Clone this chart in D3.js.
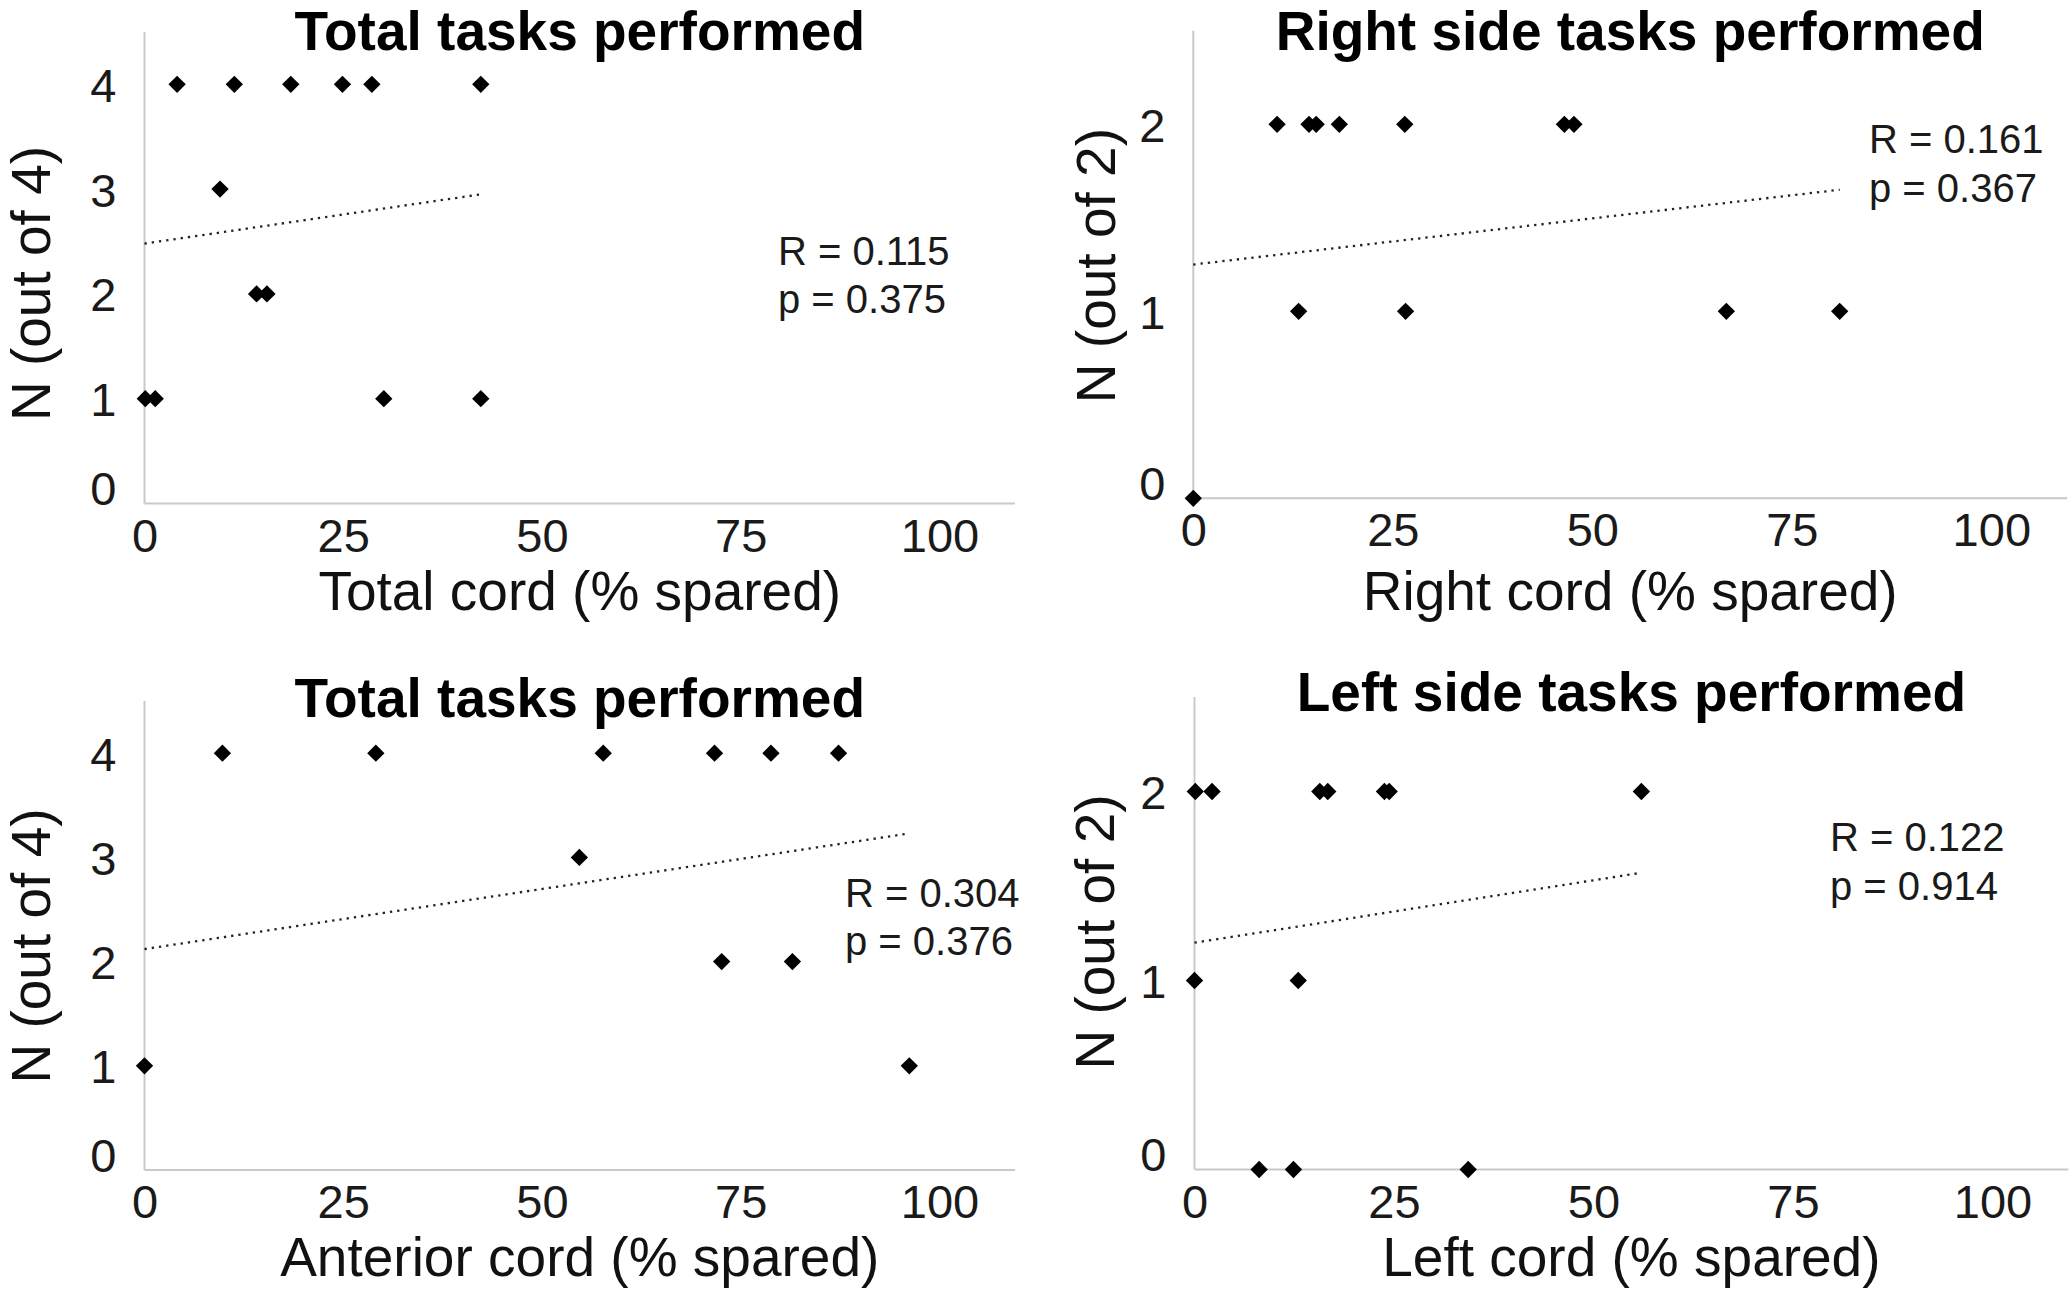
<!DOCTYPE html>
<html>
<head>
<meta charset="utf-8">
<script src="https://cdn.jsdelivr.net/npm/d3@7/dist/d3.min.js"></script>
<style>
  html, body { margin: 0; padding: 0; background: #fff; }
  svg { display: block; }
  text { font-family: "Liberation Sans", Arial, Helvetica, sans-serif; }
</style>
</head>
<body>
<svg id="chart" width="2072" height="1295"></svg>
<script>
// ---------------- DATA ----------------
const xTicks = [0, 25, 50, 75, 100];
const yTicksOf4 = [0, 1, 2, 3, 4];
const yTicksOf2 = [0, 1, 2];

const panelTitles = ["Total tasks performed", "Right side tasks performed", "Total tasks performed", "Left side tasks performed"];
const xTitles = ["Total cord (% spared)", "Right cord (% spared)", "Anterior cord (% spared)", "Left cord (% spared)"];
const yTitles = ["N (out of 4)", "N (out of 2)", "N (out of 4)", "N (out of 2)"];
const yMaxes = [4.5, 2.5, 4.5, 2.5];

// Panel A: total cord vs total tasks
const totalCordX = [4.1, 11.3, 18.4, 24.9, 28.6, 42.3, 9.5, 14.1, 15.4, 0.1, 1.35, 30.1, 42.3];
const totalTasksY = [4, 4, 4, 4, 4, 4, 3, 2, 2, 1, 1, 1, 1];
// Panel B: right cord vs right side tasks
const rightCordX = [10.5, 14.5, 15.4, 18.3, 26.5, 46.5, 47.7, 13.2, 26.6, 66.8, 81.0, 0];
const rightTasksY = [2, 2, 2, 2, 2, 2, 2, 1, 1, 1, 1, 0];
// Panel C: anterior cord vs total tasks
const anteriorCordX = [9.8, 29.1, 57.7, 71.7, 78.8, 87.3, 54.7, 72.6, 81.5, 0, 96.2];
const anteriorTasksY = [4, 4, 4, 4, 4, 4, 3, 2, 2, 1, 1];
// Panel D: left cord vs left side tasks
const leftCordX = [0.1, 2.2, 15.7, 16.7, 23.8, 24.4, 56.0, 0, 13.0, 8.1, 12.4, 34.3];
const leftTasksY = [2, 2, 2, 2, 2, 2, 2, 1, 1, 0, 0, 0];

// Linear trend lines (start and end points)
const trendStarts = [[0, 2.48], [0, 1.25], [0, 2.12], [0, 1.20]];
const trendEnds = [[42.3, 2.95], [81.0, 1.65], [96.2, 3.23], [56.0, 1.57]];

const statR = ["R = 0.115", "R = 0.161", "R = 0.304", "R = 0.122"];
const statP = ["p = 0.375", "p = 0.367", "p = 0.376", "p = 0.914"];

// ---------------- LAYOUT ----------------
const layouts = [
  { x0: 144.5, unit: 7.95, y0: 503.5, yUnit: 104.8, titleY: 50, xTitleY: 610, yTitleX: 50, yTitleY: 283.5, statX: 778, statY: [265, 313] },
  { x0: 1193.3, unit: 7.98, y0: 498.3, yUnit: 187, titleY: 50, xTitleY: 610, yTitleX: 1115, yTitleY: 265.6, statX: 1869, statY: [153, 202] },
  { x0: 144.5, unit: 7.95, y0: 1170, yUnit: 104.2, titleY: 717, xTitleY: 1276, yTitleX: 50, yTitleY: 946, statX: 845, statY: [907, 955] },
  { x0: 1194.5, unit: 7.98, y0: 1169.5, yUnit: 189, titleY: 711, xTitleY: 1276, yTitleX: 1114, yTitleY: 932, statX: 1830, statY: [851, 900] }
];

const panels = [
  { xs: totalCordX, ys: totalTasksY, yTicks: yTicksOf4 },
  { xs: rightCordX, ys: rightTasksY, yTicks: yTicksOf2 },
  { xs: anteriorCordX, ys: anteriorTasksY, yTicks: yTicksOf4 },
  { xs: leftCordX, ys: leftTasksY, yTicks: yTicksOf2 }
];

const svg = d3.select("#chart");
const xShownMax = 109.5;
const diamond = d3.symbol().type(d3.symbolSquare).size(150);

panels.forEach((p, i) => {
  const L = layouts[i];
  const x = d3.scaleLinear().domain([0, 100]).range([L.x0, L.x0 + 100 * L.unit]);
  const y = d3.scaleLinear().domain([0, 1]).range([L.y0, L.y0 - L.yUnit]);
  const yMax = yMaxes[i];
  const g = svg.append("g");

  // axes (Excel-like: light grey lines, no ticks)
  const xAxis = d3.axisBottom(x).tickValues(xTicks).tickSize(0).tickPadding(0).tickFormat(d3.format("d"));
  const xg = g.append("g").attr("transform", `translate(0,${L.y0})`).call(xAxis);
  xg.select(".domain").remove();
  xg.selectAll("text").attr("y", 48).attr("dy", null)
    .attr("font-size", 47).attr("fill", "#1a1a1a")
    .style("font-family", '"Liberation Sans", Arial, sans-serif');

  const yAxis = d3.axisLeft(y).tickValues(p.yTicks).tickSize(0).tickPadding(0).tickFormat(d3.format("d"));
  const yg = g.append("g").attr("transform", `translate(${L.x0},0)`).call(yAxis);
  yg.select(".domain").remove();
  yg.selectAll("text").attr("x", -28).attr("dy", null)
    .attr("y", d => (d === 0 ? 1 : 17))
    .attr("font-size", 47).attr("fill", "#1a1a1a")
    .style("font-family", '"Liberation Sans", Arial, sans-serif');

  g.append("line")
    .attr("x1", L.x0).attr("x2", x(xShownMax))
    .attr("y1", L.y0).attr("y2", L.y0)
    .attr("stroke", "#c9c9c9").attr("stroke-width", 2);
  g.append("line")
    .attr("x1", L.x0).attr("x2", L.x0)
    .attr("y1", L.y0).attr("y2", y(yMax))
    .attr("stroke", "#c9c9c9").attr("stroke-width", 2);

  // trend line
  g.append("line")
    .attr("x1", x(trendStarts[i][0])).attr("y1", y(trendStarts[i][1]))
    .attr("x2", x(trendEnds[i][0])).attr("y2", y(trendEnds[i][1]))
    .attr("stroke", "#222").attr("stroke-width", 2.3)
    .attr("stroke-dasharray", "2.3,5");

  // points
  g.selectAll("path.pt").data(p.xs.map((v, k) => [v, p.ys[k]])).join("path")
    .attr("class", "pt")
    .attr("d", diamond)
    .attr("transform", d => `translate(${x(d[0])},${y(d[1])}) rotate(45)`)
    .attr("fill", "#000");

  // titles
  const cx = (L.x0 + x(xShownMax)) / 2;
  g.append("text").attr("x", cx).attr("y", L.titleY)
    .attr("text-anchor", "middle").attr("font-size", 55).attr("font-weight", "bold")
    .attr("fill", "#000").text(panelTitles[i]);
  g.append("text").attr("x", cx).attr("y", L.xTitleY)
    .attr("text-anchor", "middle").attr("font-size", 55)
    .attr("fill", "#111").text(xTitles[i]);
  g.append("text")
    .attr("transform", `translate(${L.yTitleX},${L.yTitleY}) rotate(-90)`)
    .attr("text-anchor", "middle").attr("font-size", 55)
    .attr("fill", "#111").text(yTitles[i]);

  // stats
  g.append("text").attr("x", L.statX).attr("y", L.statY[0])
    .attr("font-size", 40).attr("fill", "#1a1a1a").text(statR[i]);
  g.append("text").attr("x", L.statX).attr("y", L.statY[1])
    .attr("font-size", 40).attr("fill", "#1a1a1a").text(statP[i]);
});
</script>
</body>
</html>
